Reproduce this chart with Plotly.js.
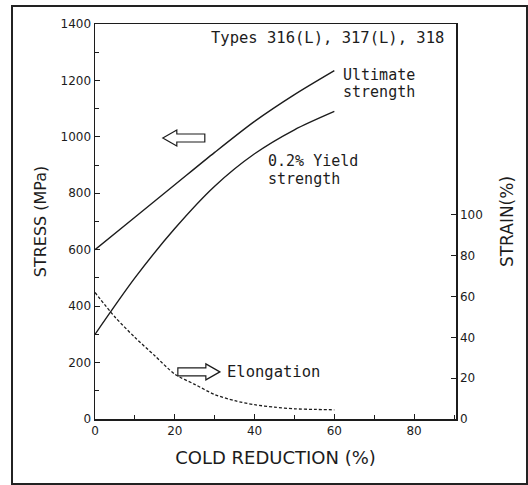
<!DOCTYPE html>
<html>
<head>
<meta charset="utf-8">
<script src="https://cdn.plot.ly/plotly-3.0.1.min.js"></script>
<style>
  html, body { margin: 0; padding: 0; background: #fff; }
  #chart { width: 528px; height: 485px; }
</style>
</head>
<body>
<div id="chart"></div>
<script>
// Cold reduction (%) sample points for the strength curves
const coldReduction = [0, 10, 20, 30, 40, 50, 60];
// Ultimate strength (MPa)
const ultimateStrength = [600, 715, 830, 945, 1055, 1150, 1235];
// 0.2% yield strength (MPa)
const yieldStrength = [300, 500, 675, 825, 940, 1025, 1090];
// Elongation (strain %, right axis)
const elongationX = [0, 5, 10, 15, 20, 25, 30, 35, 40, 45, 50, 55, 60];
const elongation = [62, 50, 40, 31, 22, 17, 12, 9, 7, 5.8, 5, 4.7, 4.5];

// Axis ticks
const xTicks = [0, 20, 40, 60, 80];
const xMinorTicks = [10, 30, 50, 70, 90];
const yTicks = [0, 200, 400, 600, 800, 1000, 1200, 1400];
const yMinorTicks = [100, 300, 500, 700, 900, 1100, 1300];
const y2Ticks = [0, 20, 40, 60, 80, 100];

const ink = '#1c1c1c';
const sans = 'DejaVu Sans, sans-serif';
const mono = 'DejaVu Sans Mono, monospace';

const traces = [
  {
    x: coldReduction, y: ultimateStrength, type: 'scatter', mode: 'lines',
    line: { color: ink, width: 1.4, shape: 'spline', smoothing: 0.8 },
    name: 'Ultimate strength', hoverinfo: 'x+y'
  },
  {
    x: coldReduction, y: yieldStrength, type: 'scatter', mode: 'lines',
    line: { color: ink, width: 1.4, shape: 'spline', smoothing: 0.8 },
    name: '0.2% Yield strength', hoverinfo: 'x+y'
  },
  {
    x: elongationX, y: elongation, type: 'scatter', mode: 'lines', yaxis: 'y2',
    line: { color: ink, width: 1.3, dash: '3px,2px', shape: 'spline', smoothing: 0.8 },
    name: 'Elongation', hoverinfo: 'x+y'
  }
];

const leftArrowPath = 'M0,0 L14,8 L14,4 L42,4 L42,-4 L14,-4 L14,-8 Z';
const rightArrowPath = 'M0,0 L-14,8 L-14,4 L-42,4 L-42,-4 L-14,-4 L-14,-8 Z';

function label(x, y, text, size, xanchor) {
  return { xref: 'x', yref: 'y', x: x, y: y, text: text, showarrow: false,
           xanchor: xanchor || 'left', yanchor: 'middle', align: 'left',
           font: { family: mono, size: size, color: ink } };
}

const layout = {
  width: 528, height: 485,
  margin: { l: 95, r: 72, t: 24, b: 66, pad: 0 },
  paper_bgcolor: '#fff', plot_bgcolor: '#fff',
  showlegend: false,
  font: { family: sans, color: ink, size: 12 },
  xaxis: {
    range: [0, 90.5], tickmode: 'array', tickvals: xTicks, ticktext: xTicks.map(String),
    ticks: 'inside', ticklen: 5, tickwidth: 1, tickcolor: ink,
    minor: { tickmode: 'array', tickvals: xMinorTicks, ticks: 'inside', ticklen: 4, tickwidth: 1, tickcolor: ink, showgrid: false },
    showline: true, linecolor: ink, linewidth: 1.5, mirror: true,
    showgrid: false, zeroline: false, automargin: false,
    tickfont: { family: sans, size: 12, color: ink },
    title: { text: 'COLD REDUCTION (%)', font: { family: sans, size: 18, color: ink }, standoff: 14 }
  },
  yaxis: {
    range: [0, 1400], tickmode: 'array', tickvals: yTicks, ticktext: yTicks.map(String),
    ticks: 'inside', ticklen: 5, tickwidth: 1, tickcolor: ink,
    minor: { tickmode: 'array', tickvals: yMinorTicks, ticks: 'inside', ticklen: 4, tickwidth: 1, tickcolor: ink, showgrid: false },
    showline: true, linecolor: ink, linewidth: 1.5,
    showgrid: false, zeroline: false, automargin: false,
    tickfont: { family: sans, size: 12, color: ink },
    title: { text: 'STRESS (MPa)', font: { family: sans, size: 16, color: ink }, standoff: 10 }
  },
  yaxis2: {
    overlaying: 'y', side: 'right', anchor: 'x',
    range: [0, 193.6], tickmode: 'array', tickvals: y2Ticks, ticktext: y2Ticks.map(String),
    ticks: 'inside', ticklen: 5, tickwidth: 1, tickcolor: ink,
    showline: true, linecolor: ink, linewidth: 1.5,
    showgrid: false, zeroline: false, automargin: false,
    tickfont: { family: sans, size: 12, color: ink },
    title: { text: 'STRAIN(%)', font: { family: sans, size: 17, color: ink }, standoff: 19 }
  },
  annotations: [
    label(58.3, 1350, 'Types 316(L), 317(L), 318', 15.5, 'center'),
    label(61.7, 1221, 'Ultimate', 15),
    label(61.7, 1159, 'strength', 15),
    label(42.9, 913, '0.2% Yield', 15),
    label(42.9, 851, 'strength', 15),
    label(32.6, 167, 'Elongation', 15.5)
  ],
  shapes: [
    // outer frame
    { type: 'rect', xref: 'paper', yref: 'paper', x0: -0.2299, x1: 1.1967, y0: -0.1646, y1: 1.0456,
      line: { color: '#222', width: 2 }, fillcolor: 'rgba(0,0,0,0)', layer: 'below' },
    // hollow arrow pointing left (towards stress axis)
    { type: 'path', xref: 'x', yref: 'y', xsizemode: 'pixel', ysizemode: 'pixel',
      xanchor: 17.0, yanchor: 996, path: leftArrowPath,
      line: { color: ink, width: 1.2 }, fillcolor: '#fff' },
    // hollow arrow pointing right (towards strain axis)
    { type: 'path', xref: 'x', yref: 'y', xsizemode: 'pixel', ysizemode: 'pixel',
      xanchor: 31.3, yanchor: 167, path: rightArrowPath,
      line: { color: ink, width: 1.2 }, fillcolor: '#fff' }
  ]
};

Plotly.newPlot('chart', traces, layout, { staticPlot: true, displayModeBar: false });
</script>
</body>
</html>
